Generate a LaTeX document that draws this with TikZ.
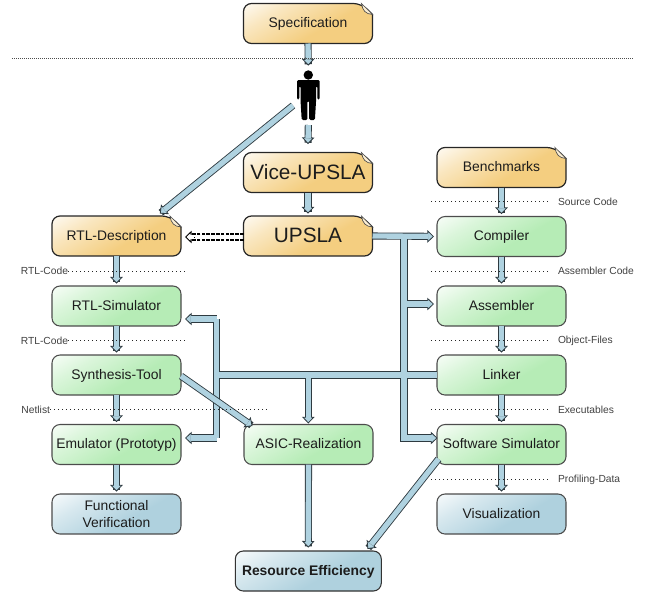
\documentclass[tikz,border=0pt]{standalone}
\usepackage{fontspec}
\setmainfont{Liberation Sans}
\usetikzlibrary{calc,arrows.meta,backgrounds}
\definecolor{oe}{HTML}{F4CE80}
\definecolor{ge}{HTML}{B6ECB6}
\definecolor{be}{HTML}{AFD1DE}
\definecolor{lb}{HTML}{AFD2E0}
\definecolor{ol}{HTML}{2E3A40}
\definecolor{tx}{HTML}{1C1C1C}
\pgfdeclareverticalshading{ogr}{100bp}{color(0bp)=(oe); color(42bp)=(oe); color(68bp)=(oe!50!white); color(88bp)=(white); color(100bp)=(white)}
\pgfdeclareverticalshading{ggr}{100bp}{color(0bp)=(ge); color(42bp)=(ge); color(68bp)=(ge!50!white); color(88bp)=(white); color(100bp)=(white)}
\pgfdeclareverticalshading{bgr}{100bp}{color(0bp)=(be); color(42bp)=(be); color(68bp)=(be!50!white); color(88bp)=(white); color(100bp)=(white)}
\tikzset{
  nodebox/.style={rectangle,inner sep=0pt,outer sep=0pt,minimum width=96.75pt,minimum height=30pt,align=center,text=tx,text height=7.5pt,text depth=1pt,font=\fontsize{10.4}{12.5}\selectfont},
  widebox/.style={nodebox,minimum width=109.5pt,font=\fontsize{10.4}{12.5}\selectfont\bfseries},
  bigdoc/.style={nodebox,text height=11.2pt,text depth=1.4pt,font=\fontsize{15.6}{18}\selectfont},
  twolines/.style={text height=,text depth=},
  greenbox/.style={nodebox,draw=black!70,line width=.8pt,rounded corners=6pt,shading=ggr,shading angle=30},
  bluebox/.style={nodebox,draw=black!70,line width=.8pt,rounded corners=6pt,shading=bgr,shading angle=30},
  bluewide/.style={widebox,draw=black!80,line width=.8pt,rounded corners=6pt,shading=bgr,shading angle=30},
  docshape/.style={draw=black!85,line width=.9pt,shading=ogr,shading angle=30},
  fold/.style={draw=black!70,line width=.5pt,fill=oe!35!white},
  fathead/.style={-{Triangle[length=5pt,width=9.4pt,color=ol,fill=lb,line width=.6pt,sep=0pt]}},
  fatout/.style={draw=ol,line width=5.3pt,line join=miter,line cap=butt},
  fatin/.style={draw=lb,line width=4pt,line join=miter,line cap=butt},
  smalllabel/.style={inner sep=0pt,outer sep=0pt,text=black!75,font=\fontsize{7.7}{9}\selectfont},
  dotline/.style={draw=black!85,line width=.65pt,dash pattern=on .75pt off 2.25pt},
  person/.style={fill=black,draw=none},
  dashshaft/.style={draw=black,line width=.8pt,dash pattern=on 2.6pt off 1pt}
}
\newcommand{\docbox}[4]{%
  \node[#4] (#1) at (#2) {#3};
  \begin{pgfonlayer}{background}
  \path[docshape] (#1.west) [rounded corners=6pt] |- ($(#1.north east)+(-11,0)$) [sharp corners] -- ($(#1.north east)+(0,11)$) [rounded corners=6pt] |- (#1.south) -| (#1.west) -- cycle;
  \path[fold] ($(#1.north east)+(-11,0)$) .. controls ($(#1.north east)+(-10,7)$) and ($(#1.north east)+(-7,10.5)$) .. ($(#1.north east)+(0,11)$) -- cycle;
  \end{pgfonlayer}}
\newcommand{\fatarrow}[3][1.8pt]{%
  \draw[fatout,shorten >=#1+1pt] (#2) -- (#3);
  \draw[ol,line width=.3pt,shorten >=#1,fathead] ($(#3)!9pt!(#2)$) -- (#3);
  \draw[fatin,shorten >=#1+4.4pt] (#2) -- (#3);}
\begin{document}
\begin{tikzpicture}[x=.75pt,y=-.75pt]
\useasboundingbox (0,0) rectangle (646,593);
% --- nodes
\docbox{spec}{308,23.5}{Specification}{nodebox}
\docbox{vice}{308,172.5}{Vice-UPSLA}{bigdoc}
\docbox{upsla}{308,236}{UPSLA}{bigdoc}
\docbox{bench}{501.5,167.5}{Benchmarks}{nodebox}
\docbox{rtl}{116.5,236}{RTL-Description}{nodebox}
\node[greenbox] (sim) at (116.5,306) {RTL-Simulator};
\node[greenbox] (syn) at (116.5,375) {Synthesis-Tool};
\node[greenbox] (emu) at (116.5,444.5) {Emulator (Prototyp)};
\node[bluebox,twolines] (fv) at (116.5,514) {Functional\\Verification};
\node[greenbox] (asic) at (308.5,444.5) {ASIC-Realization};
\node[bluewide] (res) at (308.3,571) {Resource Efficiency};
\node[greenbox] (comp) at (501.5,236.5) {Compiler};
\node[greenbox] (asm) at (501.5,306) {Assembler};
\node[greenbox] (link) at (501.5,375) {Linker};
\node[greenbox] (sw) at (501.5,444.5) {Software Simulator};
\node[bluebox] (vis) at (501.5,514) {Visualization};
% --- person
\coordinate (man) at (308.3,100);
\fill[person] ($(man)+(0,-25)$) circle[radius=4.7];
\fill[person,rounded corners=1pt] ($(man)+(-11.3,-20)$) -- ($(man)+(11.3,-20)$) -- ($(man)+(11.3,-.5)$) -- ($(man)+(9,-.5)$) -- ($(man)+(9,-14)$) -- ($(man)+(7.8,-14)$) -- ($(man)+(7.8,0)$) -- ($(man)+(6.6,20)$) -- ($(man)+(.9,20)$) -- ($(man)+(.9,1)$) -- ($(man)+(-.9,1)$) -- ($(man)+(-.9,20)$) -- ($(man)+(-6.6,20)$) -- ($(man)+(-7.8,0)$) -- ($(man)+(-7.8,-14)$) -- ($(man)+(-9,-14)$) -- ($(man)+(-9,-.5)$) -- ($(man)+(-11.3,-.5)$) -- cycle;
% --- named bends and free ends
\coordinate (manin) at (308.3,68);
\coordinate (manout) at (308.3,125);
\coordinate (manleft) at (293,105.5);
\coordinate (a) at (404,236);
\coordinate (b) at (404,304);
\coordinate (c) at (404,438);
\coordinate (d) at (216.5,375);
\coordinate (e) at (216.5,319);
\coordinate (f) at (216.5,438);
\coordinate (g) at (308.3,375);
\coordinate (simin) at (185,319);
\coordinate (emuin) at (185,438);
\coordinate (asmin) at (434,304);
\coordinate (swin) at (437.5,438);
\coordinate (compin) at (434,236.5);
\coordinate (asicin) at (252.5,426);
\coordinate (resin) at (367.5,549);
\coordinate (swout) at (438.5,459);
\coordinate (rtlin) at (158,215);
\coordinate (synout) at (181,376);
% --- straight arrows
\fatarrow{spec.south}{manin}
\fatarrow{manout}{$(vice.north)+(0,-6)$}
\fatarrow{vice.south}{upsla.north}
\fatarrow{manleft}{rtlin}
\fatarrow{rtl.south}{sim.north}
\fatarrow{sim.south}{syn.north}
\fatarrow{syn.south}{emu.north}
\fatarrow{emu.south}{fv.north}
\fatarrow{bench.south}{comp.north}
\fatarrow{comp.south}{asm.north}
\fatarrow{asm.south}{link.north}
\fatarrow{link.south}{sw.north}
\fatarrow{sw.south}{vis.north}
\fatarrow[2.5pt]{asic.south}{res.north}
% --- buses
\draw[fatout] (upsla.east) -- (428,236.3);
\draw[fatout] (a) -- (c) -- (431,438);
\draw[fatout] (b) -- (428,304);
\draw[fatout] (link.west) -- (d);
\draw[fatout] (e |- simin) -- (f);
\draw[fatout] (e) -- (191,319);
\draw[fatout] (f) -- (191,438);
\draw[fatout] (g) -- (308.3,418);
\draw[ol,line width=.3pt,fathead] (424,236.4) -- (compin);
\draw[ol,line width=.3pt,fathead] (424,304) -- (asmin);
\draw[ol,line width=.3pt,fathead] (427,438) -- (swin);
\draw[ol,line width=.3pt,fathead] (195,319) -- (simin);
\draw[ol,line width=.3pt,fathead] (195,438) -- (emuin);
\draw[ol,line width=.3pt,fathead] (308.3,414) -- ($(asic.north)+(-.2,-1)$);
\draw[fatin] (upsla.east) -- (428.5,236.3);
\draw[fatin] (a) -- (c) -- (431.5,438);
\draw[fatin] (b) -- (428.5,304);
\draw[fatin] (link.west) -- (d);
\draw[fatin] (e) -- (f);
\draw[fatin] (e) -- (190.5,319);
\draw[fatin] (f) -- (190.5,438);
\draw[fatin] (g) -- (308.3,418.5);
% --- diagonals over the buses
\fatarrow[0pt]{synout}{asicin}
\fatarrow[0pt]{swout}{resin}
% --- dashed double arrow
\coordinate (dashtip) at (185,237);
\draw[dashshaft] (upsla.west |- 0,234) -- (191,234);
\draw[dashshaft] (upsla.west |- 0,240) -- (191,240);
\draw[black,line width=.3pt,-{Triangle[length=5pt,width=9.4pt,color=black,fill=white,line width=.7pt,sep=0pt]}] (195,237) -- (dashtip);
\path[fill=white] (190,235) rectangle (194,239);
% --- dotted lines with labels
\node[smalllabel,anchor=east] (l1) at (68,271) {RTL-Code};
\coordinate (l1e) at (187,271);
\draw[dotline] (l1.east) -- (l1e);
\node[smalllabel,anchor=east] (l2) at (68,340.5) {RTL-Code};
\coordinate (l2e) at (187,340.5);
\draw[dotline] (l2.east) -- (l2e);
\node[smalllabel,anchor=east] (l3) at (50,409.5) {Netlist};
\coordinate (l3e) at (267,409.5);
\draw[dotline] (l3.east) -- (l3e);
\node[smalllabel,anchor=west] (r1) at (558,201.5) {Source Code};
\coordinate (r1s) at (431,201.5);
\draw[dotline] (r1s) -- (550,201.5);
\node[smalllabel,anchor=west] (r2) at (558,271) {Assembler Code};
\coordinate (r2s) at (431,271);
\draw[dotline] (r2s) -- (550,271);
\node[smalllabel,anchor=west] (r3) at (558,340.5) {Object-Files};
\coordinate (r3s) at (431,340.5);
\draw[dotline] (r3s) -- (550,340.5);
\node[smalllabel,anchor=west] (r4) at (558,409.5) {Executables};
\coordinate (r4s) at (431,409.5);
\draw[dotline] (r4s) -- (550,409.5);
\node[smalllabel,anchor=west] (r5) at (558,479.5) {Profiling-Data};
\coordinate (r5s) at (431,479.5);
\draw[dotline] (r5s) -- (550,479.5);
% --- separator
\coordinate (sepl) at (12,58.5);
\coordinate (sepr) at (634,58.5);
\draw[black!70,line width=.5pt,dash pattern=on 1pt off .5pt] (sepl) -- (sepr);
\end{tikzpicture}
\end{document}
